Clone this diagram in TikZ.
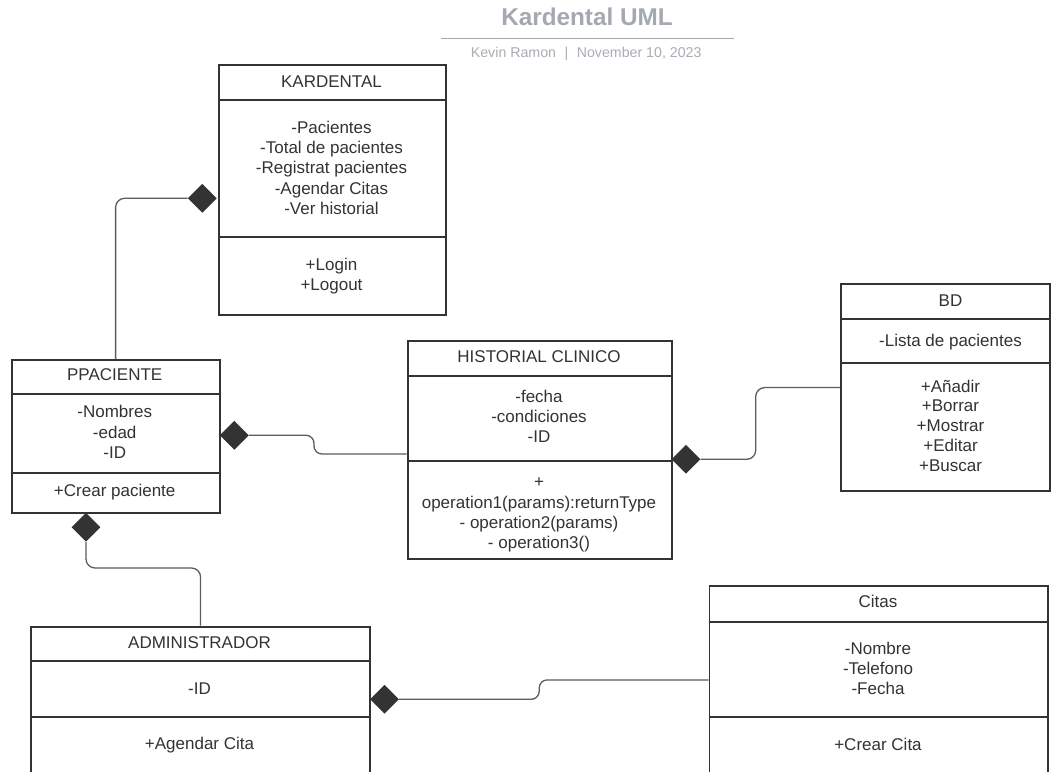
\documentclass[tikz,border=0pt]{standalone}
\usepackage{fontspec}
\setmainfont{Liberation Sans}
\usetikzlibrary{shapes.geometric}
\definecolor{ink}{HTML}{333333}
\definecolor{connc}{HTML}{5C5C5C}
\definecolor{ttl}{HTML}{A4A9B1}
\definecolor{subc}{HTML}{A9ADB5}
\begin{document}
\begin{tikzpicture}[x=1pt,y=-1pt,
  box/.style={draw=ink, line width=1.8pt, inner sep=0pt, anchor=north west},
  lbl/.style={font=\fontsize{17}{20.2}\selectfont, text=ink, inner sep=0pt, text height=12.2pt, text depth=0pt},
  dia/.style={diamond, fill=ink, draw=none, inner sep=0pt, minimum width=29pt, minimum height=29pt},
  conn/.style={draw=connc, line width=1.3pt, rounded corners=9pt},
  sepline/.style={draw=ink, line width=1.8pt}]
\useasboundingbox (0,0) rectangle (1051,771);
\clip (0,0) rectangle (1051,771);
\fill[white] (0,0) rectangle (1051,771);

% title
\node[font=\fontsize{24.3}{30}\selectfont\bfseries, text=ttl, inner sep=0pt, text height=17.5pt, text depth=0pt] (title) at (587,17) {Kardental UML};
\coordinate (rulel) at (441,38.3);
\coordinate (ruler) at (734,38.3);
\draw[ttl, line width=1.4pt] (rulel) -- (ruler);
\node[font=\fontsize{14.2}{16}\selectfont, text=subc, inner sep=0pt, text height=10.2pt, text depth=0pt] (subt) at (586.2,52) {Kevin Ramon\hspace{8.5pt}|\hspace{8.5pt}November 10, 2023};

% KARDENTAL
\node[box, minimum width=227pt, minimum height=250pt] (kard) at (218,64) {};
\draw[sepline] (kard.west |- 0,100) -- (kard.east |- 0,100);
\draw[sepline] (kard.west |- 0,236.7) -- (kard.east |- 0,236.7);
\node[lbl] (kardT) at (331.5,81) {KARDENTAL};
\foreach \t [count=\i] in {-Pacientes,-Total de pacientes,-Registrat pacientes,-Agendar Citas,-Ver historial}
  \node[lbl] (kardA\i) at (331.5,{127+20.35*(\i-1)}) {\t};
\foreach \t [count=\i] in {+Login,+Logout}
  \node[lbl] (kardO\i) at (331.5,{264+20.2*(\i-1)}) {\t};

% PPACIENTE
\node[box, minimum width=208pt, minimum height=152.7pt] (ppac) at (10.7,359) {};
\draw[sepline] (ppac.west |- 0,394) -- (ppac.east |- 0,394);
\draw[sepline] (ppac.west |- 0,472.7) -- (ppac.east |- 0,472.7);
\node[lbl] (ppacT) at (114.7,374.5) {PPACIENTE};
\foreach \t [count=\i] in {-Nombres,-edad,-ID}
  \node[lbl] (ppacA\i) at (114.7,{411.7+20.2*(\i-1)}) {\t};
\node[lbl] (ppacO1) at (114.7,490.7) {+Crear paciente};

% HISTORIAL CLINICO
\node[box, minimum width=264.3pt, minimum height=218.3pt] (hist) at (406.7,340) {};
\draw[sepline] (hist.west |- 0,375.7) -- (hist.east |- 0,375.7);
\draw[sepline] (hist.west |- 0,460.7) -- (hist.east |- 0,460.7);
\node[lbl] (histT) at (539,356.5) {HISTORIAL CLINICO};
\foreach \t [count=\i] in {-fecha,-condiciones,-ID}
  \node[lbl] (histA\i) at (539,{396+20.2*(\i-1)}) {\t};
\foreach \t [count=\i] in {+,operation1(params):returnType,- operation2(params),- operation3()}
  \node[lbl] (histO\i) at (539,{481.7+20.3*(\i-1)}) {\t};

% BD
\node[box, minimum width=209.3pt, minimum height=206.7pt] (bd) at (840,283.3) {};
\draw[sepline] (bd.west |- 0,319) -- (bd.east |- 0,319);
\draw[sepline] (bd.west |- 0,362.7) -- (bd.east |- 0,362.7);
\node[lbl] (bdT) at (950.5,300.5) {BD};
\node[lbl] (bdA1) at (950.5,340.5) {-Lista de pacientes};
\foreach \t [count=\i] in {+Añadir,+Borrar,+Mostrar,+Editar,+Buscar}
  \node[lbl] (bdO\i) at (950.5,{386+19.8*(\i-1)}) {\t};

% ADMINISTRADOR
\node[box, minimum width=339.3pt, minimum height=147.2pt] (admin) at (30,625.7) {};
\draw[sepline] (admin.west |- 0,661) -- (admin.east |- 0,661);
\draw[sepline] (admin.west |- 0,716.7) -- (admin.east |- 0,716.7);
\node[lbl] (adminT) at (199.5,642) {ADMINISTRADOR};
\node[lbl] (adminA1) at (199.5,688) {-ID};
\node[lbl] (adminO1) at (199.5,743.3) {+Agendar Cita};

% Citas
\node[box, minimum width=338.4pt, minimum height=188pt] (citas) at (708.5,585) {};
\draw[sepline] (citas.west |- 0,621.7) -- (citas.east |- 0,621.7);
\draw[sepline] (citas.west |- 0,716.7) -- (citas.east |- 0,716.7);
\node[lbl] (citasT) at (878,601.7) {Citas};
\foreach \t [count=\i] in {-Nombre,-Telefono,-Fecha}
  \node[lbl] (citasA\i) at (878,{648.3+20*(\i-1)}) {\t};
\node[lbl] (citasO1) at (878,744.3) {+Crear Cita};

% diamonds
\node[dia] (dk) at (202.3,198.3) {};
\node[dia] (dph) at (234.3,435.3) {};
\node[dia] (dhb) at (686,459.3) {};
\node[dia] (dpa) at (86,527.3) {};
\node[dia] (dac) at (384.5,699.3) {};

% connectors
\draw[conn] (dk.west) -| (ppac.north);
\draw[conn, rounded corners=8pt] (dph.east) -- ++(65,0) |- (hist.west |- 0,454);
\draw[conn] (dhb.east) -- ++(55,0) |- (bd.west);
\draw[conn] (dpa.south) -- ++(0,26) -| (admin.north);
\draw[conn, rounded corners=8pt] (dac.east) -- ++(140,0) |- (citas.west);
\end{tikzpicture}
\end{document}
